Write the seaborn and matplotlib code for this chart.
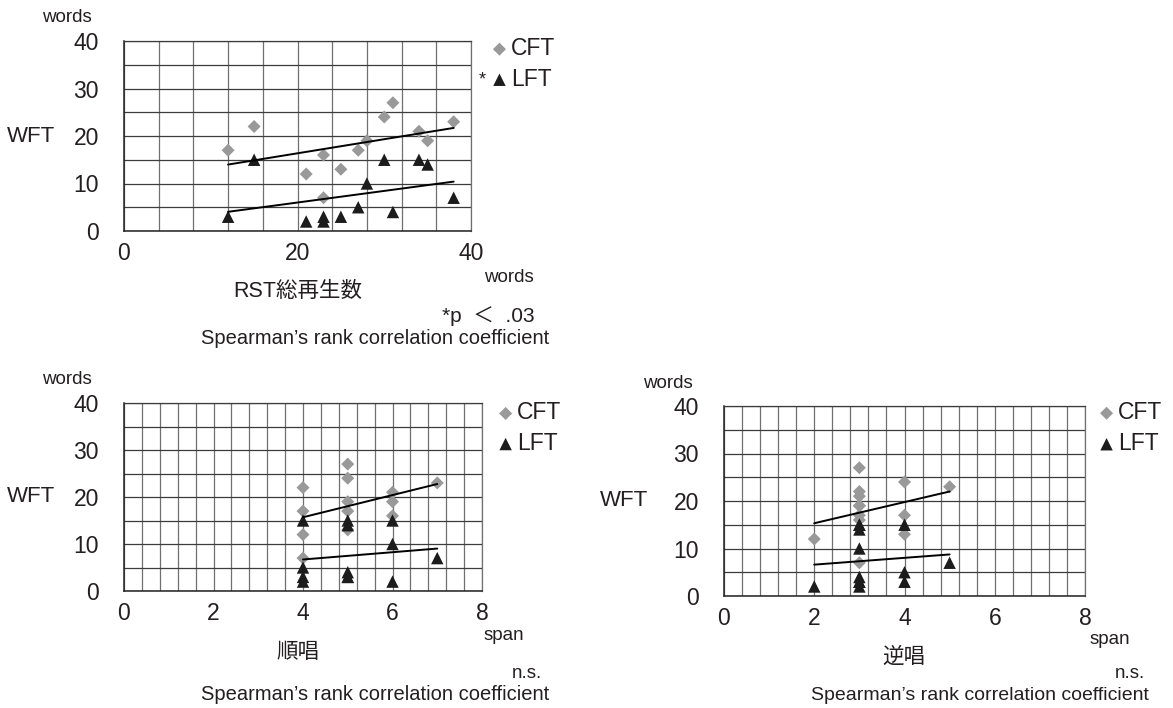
import numpy as np
import pandas as pd
import matplotlib
matplotlib.use("Agg")
import matplotlib.pyplot as plt
from matplotlib.ticker import MultipleLocator
import seaborn as sns

# =========================
# Data (one entry per subject)
# =========================
rst_total = [12, 15, 21, 23, 23, 25, 27, 28, 30, 31, 34, 35, 38]
digit_fwd = [5, 4, 4, 6, 4, 5, 4, 6, 5, 5, 6, 5, 7]
digit_bwd = [3, 3, 2, 3, 3, 4, 4, 3, 4, 3, 3, 3, 5]
cft = [17, 22, 12, 16, 7, 13, 17, 19, 24, 27, 21, 19, 23]
lft = [3, 15, 2, 2, 3, 3, 5, 10, 15, 4, 15, 14, 7]

y_ticks = [0, 10, 20, 30, 40]

sns.set_style("white")
plt.rcParams["font.family"] = ["Liberation Sans", "Noto Sans CJK JP"]
plt.rcParams["axes.unicode_minus"] = False

GRAY = "#999999"
DARK = "#1c1c1c"
GRID_H = "#3c3c3c"
GRID_V = "#707070"
TXT = "#231f20"

W, H = 1173, 708
fig = plt.figure(figsize=(W / 100, H / 100), dpi=100)


def px_axes(l, t, r, b):
    return fig.add_axes([l / W, 1 - b / H, (r - l) / W, (b - t) / H])


def ftext(x, y, s, size, ha="center"):
    fig.text(x / W, 1 - y / H, s, fontsize=size, ha=ha, va="center", color=TXT)


def panel(ax, xs, xmax, xmajor, xminor, leg_x, leg_y, leg_spacing):
    df = pd.DataFrame({"x": xs, "CFT": cft, "LFT": lft})
    sns.scatterplot(data=df, x="x", y="CFT", marker="D", s=44, color=GRAY,
                    edgecolor="none", label="CFT", ax=ax, zorder=3)
    sns.scatterplot(data=df, x="x", y="LFT", marker="^", s=80, color=DARK,
                    edgecolor="none", label="LFT", ax=ax, zorder=3)
    for col in ["CFT", "LFT"]:
        sns.regplot(data=df, x="x", y=col, scatter=False, ci=None, truncate=True,
                    color="black", line_kws={"lw": 1.4, "zorder": 4}, ax=ax)
    ax.set_xlim(0, xmax)
    ax.set_ylim(0, 40)
    ax.set_xticks(np.arange(0, xmax + 0.01, xmajor))
    ax.set_yticks(y_ticks)
    ax.xaxis.set_minor_locator(MultipleLocator(xminor))
    ax.yaxis.set_minor_locator(MultipleLocator(5))
    ax.grid(which="both", axis="y", color=GRID_H, lw=0.9)
    ax.grid(which="both", axis="x", color=GRID_V, lw=0.9)
    ax.set_axisbelow(True)
    ax.set_xlabel("")
    ax.set_ylabel("")
    ax.tick_params(axis="y", which="major", length=6, width=1, color="#333333",
                   labelsize=16.5, pad=12, labelcolor=TXT)
    ax.tick_params(axis="x", which="major", length=4, width=1, color="#333333",
                   labelsize=16.5, pad=4, labelcolor=TXT)
    ax.tick_params(which="minor", length=0)
    for side in ["top", "right"]:
        ax.spines[side].set_color(GRID_V)
        ax.spines[side].set_linewidth(0.9)
    ax.spines["top"].set_color(GRID_H)
    for side in ["left", "bottom"]:
        ax.spines[side].set_color("#222222")
        ax.spines[side].set_linewidth(1.1)
    leg = ax.legend(loc="upper left", bbox_to_anchor=(leg_x, leg_y), frameon=False,
                    fontsize=16.5, handletextpad=0.0, labelspacing=leg_spacing,
                    handlelength=1.0, borderpad=0, borderaxespad=0)
    for t in leg.get_texts():
        t.set_color(TXT)


# =========================
# 1. RST
# =========================
ax1 = px_axes(124, 41, 471, 231)
panel(ax1, rst_total, 40, 20, 4, 1.049, 1.02, 0.33)
ftext(67, 18, "words", 13.5)
ftext(31, 136, "WFT", 16)
ftext(509, 278, "words", 13.5)
ftext(298, 291, "RST総再生数", 15.5)
ftext(535, 316, "*p  ＜  .03", 15, ha="right")
ftext(375, 338, "Spearman’s rank correlation coefficient", 14.5)
ftext(482, 80, "*", 13)

# =========================
# 2. Forward digit span
# =========================
ax2 = px_axes(124, 403, 482, 591)
panel(ax2, digit_fwd, 8, 2, 0.4, 1.034, 1.008, 0.33)
ftext(67, 379, "words", 13.5)
ftext(31, 497, "WFT", 16)
ftext(504, 636, "span", 13.5)
ftext(298, 653, "順唱", 15.5)
ftext(542, 674, "n.s.", 13.5, ha="right")
ftext(375, 694, "Spearman’s rank correlation coefficient", 14.5)

# =========================
# 3. Backward digit span
# =========================
ax3 = px_axes(724, 406, 1085, 596)
panel(ax3, digit_bwd, 8, 2, 0.4, 1.028, 1.025, 0.35)
ftext(668, 383, "words", 13.5)
ftext(624, 500, "WFT", 16)
ftext(1110, 640, "span", 13.5)
ftext(904, 657, "逆唱", 15.5)
ftext(1145, 674, "n.s.", 13.5, ha="right")
ftext(980, 696, "Spearman’s rank correlation coefficient", 14)

plt.savefig("out.png", dpi=100)
